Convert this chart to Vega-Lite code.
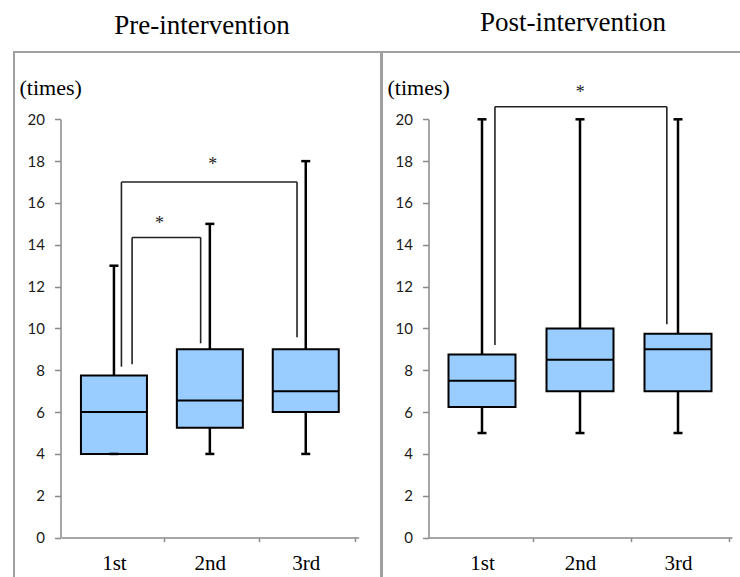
{
  "$schema": "https://vega.github.io/schema/vega-lite/v6.json",
  "padding": {"left": 13, "top": 8, "right": 0, "bottom": 0},
  "background": "white",
  "spacing": -3,
  "config": {
    "view": {"stroke": "#a0a0a0", "strokeWidth": 2},
    "axis": {"grid": false, "domainColor": "#8a8a8a", "tickColor": "#8a8a8a", "domainWidth": 1.5, "tickWidth": 1.5},
    "axisY": {"titleAngle": 0, "titleAlign": "left", "titleBaseline": "alphabetic", "titleX": -41.5, "titleY": 42, "titleFont": "Liberation Serif", "titleFontSize": 22, "titleFontWeight": "normal", "titleColor": "#000000", "offset": -46.5, "labelFont": "Lato", "labelFontSize": 15, "labelColor": "#1a1a1a", "labelPadding": 10, "tickSize": 6},
    "axisX": {"offset": -44.4, "tickSize": 4, "labelFont": "Liberation Serif", "labelFontSize": 21, "labelBaseline": "alphabetic", "labelAlign": "center", "labelPadding": 28, "labelAngle": 0, "labelColor": "#000000", "labelFlush": false, "labelOverlap": false}
  },
  "datasets": {
    "pre": [
      {"session": 1, "min": 4, "q1": 4, "median": 6, "q3": 7.75, "max": 13},
      {"session": 2, "min": 4, "q1": 5.25, "median": 6.55, "q3": 9, "max": 15},
      {"session": 3, "min": 4, "q1": 6, "median": 7, "q3": 9, "max": 18}
    ],
    "post": [
      {"session": 1, "min": 5, "q1": 6.25, "median": 7.5, "q3": 8.75, "max": 20},
      {"session": 2, "min": 5, "q1": 7, "median": 8.5, "q3": 10, "max": 20},
      {"session": 3, "min": 5, "q1": 7, "median": 9, "q3": 9.75, "max": 20}
    ],
    "preBrackets": [
      {"left": 1.189, "right": 1.904, "leftFrom": 8.29, "rightFrom": 9.29, "top": 14.35, "starX": 1.475, "starY": 15.19, "mark": "*"},
      {"left": 1.078, "right": 2.909, "leftFrom": 8.17, "rightFrom": 9.58, "top": 17.0, "starX": 2.029, "starY": 18.01, "mark": "*"}
    ],
    "postBrackets": [
      {"left": 1.132, "right": 2.886, "leftFrom": 9.21, "rightFrom": 10.2, "top": 20.6, "starX": 2.003, "starY": 21.44, "mark": "*"}
    ]
  },
  "hconcat": [
    {
      "title": {"text": "Pre-intervention", "font": "Liberation Serif", "fontSize": 27, "fontWeight": "normal", "color": "#000000", "anchor": "middle", "frame": "group", "baseline": "alphabetic", "offset": -8.8, "dx": 4.5},
      "width": 367,
      "height": 530,
      "layer": [
        {"data": {"name": "pre"},
         "mark": {"type": "rule", "color": "#000000", "strokeWidth": 2.5},
         "encoding": {
           "x": {"field": "session", "type": "quantitative", "title": null, "scale": {"domain": [0.5, 3.5], "range": [47, 344.7], "nice": false, "zero": false},
             "axis": {"values": [1, 2, 3], "tickOffset": 49.6, "labelOffset": -49.6, "labelExpr": "datum.value == 1 ? '1st' : datum.value == 2 ? '2nd' : '3rd'"}},
           "y": {"field": "min", "type": "quantitative", "title": "(times)", "scale": {"domain": [0, 20], "range": [485.6, 67.3], "nice": false, "zero": false},
             "axis": {"values": [0, 2, 4, 6, 8, 10, 12, 14, 16, 18, 20]}},
           "y2": {"field": "q1"}}},
        {"data": {"name": "pre"},
         "mark": {"type": "rule", "color": "#000000", "strokeWidth": 2.5},
         "encoding": {
           "x": {"field": "session", "type": "quantitative", "title": null},
           "y": {"field": "q3", "type": "quantitative", "title": "(times)"},
           "y2": {"field": "max"}}},
        {"data": {"name": "pre"},
         "mark": {"type": "bar", "fill": "#99CCFF", "stroke": "#000000", "strokeWidth": 2, "width": 66},
         "encoding": {
           "x": {"field": "session", "type": "quantitative", "title": null},
           "y": {"field": "q1", "type": "quantitative", "title": "(times)"},
           "y2": {"field": "q3"}}},
        {"data": {"name": "pre"},
         "mark": {"type": "tick", "orient": "horizontal", "color": "#000000", "size": 66, "thickness": 2, "opacity": 1},
         "encoding": {
           "x": {"field": "session", "type": "quantitative", "title": null},
           "y": {"field": "median", "type": "quantitative", "title": "(times)"}}},
        {"data": {"name": "pre"},
         "mark": {"type": "tick", "orient": "horizontal", "color": "#000000", "size": 9, "thickness": 2.5, "opacity": 1},
         "encoding": {
           "x": {"field": "session", "type": "quantitative", "title": null},
           "y": {"field": "max", "type": "quantitative", "title": "(times)"}}},
        {"data": {"name": "pre"},
         "mark": {"type": "tick", "orient": "horizontal", "color": "#000000", "size": 9, "thickness": 2.5, "opacity": 1},
         "encoding": {
           "x": {"field": "session", "type": "quantitative", "title": null},
           "y": {"field": "min", "type": "quantitative", "title": "(times)"}}},
        {"data": {"name": "preBrackets"},
         "mark": {"type": "rule", "color": "#222222", "strokeWidth": 1.6},
         "encoding": {
           "x": {"field": "left", "type": "quantitative", "title": null},
           "y": {"field": "leftFrom", "type": "quantitative", "title": "(times)"},
           "y2": {"field": "top"}}},
        {"data": {"name": "preBrackets"},
         "mark": {"type": "rule", "color": "#222222", "strokeWidth": 1.6},
         "encoding": {
           "x": {"field": "right", "type": "quantitative", "title": null},
           "y": {"field": "rightFrom", "type": "quantitative", "title": "(times)"},
           "y2": {"field": "top"}}},
        {"data": {"name": "preBrackets"},
         "mark": {"type": "rule", "color": "#222222", "strokeWidth": 1.6},
         "encoding": {
           "x": {"field": "left", "type": "quantitative", "title": null},
           "x2": {"field": "right"},
           "y": {"field": "top", "type": "quantitative", "title": "(times)"}}},
        {"data": {"name": "preBrackets"},
         "mark": {"type": "text", "font": "Liberation Serif", "fontSize": 18, "color": "#222222", "baseline": "alphabetic", "dy": 9},
         "encoding": {
           "x": {"field": "starX", "type": "quantitative", "title": null},
           "y": {"field": "starY", "type": "quantitative", "title": "(times)"},
           "text": {"field": "mark"}}}
      ]
    },
    {
      "title": {"text": "Post-intervention", "font": "Liberation Serif", "fontSize": 27, "fontWeight": "normal", "color": "#000000", "anchor": "middle", "frame": "group", "baseline": "alphabetic", "offset": -6.2, "dx": 8},
      "width": 366,
      "height": 530,
      "layer": [
        {"data": {"name": "post"},
         "mark": {"type": "rule", "color": "#000000", "strokeWidth": 2.5},
         "encoding": {
           "x": {"field": "session", "type": "quantitative", "title": null, "scale": {"domain": [0.5, 3.5], "range": [46, 350], "nice": false, "zero": false},
             "axis": {"values": [1, 2, 3], "tickOffset": 50.7, "labelOffset": -50.7, "labelExpr": "datum.value == 1 ? '1st' : datum.value == 2 ? '2nd' : '3rd'"}},
           "y": {"field": "min", "type": "quantitative", "title": "(times)", "scale": {"domain": [0, 20], "range": [485.6, 67.3], "nice": false, "zero": false},
             "axis": {"values": [0, 2, 4, 6, 8, 10, 12, 14, 16, 18, 20]}},
           "y2": {"field": "q1"}}},
        {"data": {"name": "post"},
         "mark": {"type": "rule", "color": "#000000", "strokeWidth": 2.5},
         "encoding": {
           "x": {"field": "session", "type": "quantitative", "title": null},
           "y": {"field": "q3", "type": "quantitative", "title": "(times)"},
           "y2": {"field": "max"}}},
        {"data": {"name": "post"},
         "mark": {"type": "bar", "fill": "#99CCFF", "stroke": "#000000", "strokeWidth": 2, "width": 67},
         "encoding": {
           "x": {"field": "session", "type": "quantitative", "title": null},
           "y": {"field": "q1", "type": "quantitative", "title": "(times)"},
           "y2": {"field": "q3"}}},
        {"data": {"name": "post"},
         "mark": {"type": "tick", "orient": "horizontal", "color": "#000000", "size": 67, "thickness": 2, "opacity": 1},
         "encoding": {
           "x": {"field": "session", "type": "quantitative", "title": null},
           "y": {"field": "median", "type": "quantitative", "title": "(times)"}}},
        {"data": {"name": "post"},
         "mark": {"type": "tick", "orient": "horizontal", "color": "#000000", "size": 9, "thickness": 2.5, "opacity": 1},
         "encoding": {
           "x": {"field": "session", "type": "quantitative", "title": null},
           "y": {"field": "max", "type": "quantitative", "title": "(times)"}}},
        {"data": {"name": "post"},
         "mark": {"type": "tick", "orient": "horizontal", "color": "#000000", "size": 9, "thickness": 2.5, "opacity": 1},
         "encoding": {
           "x": {"field": "session", "type": "quantitative", "title": null},
           "y": {"field": "min", "type": "quantitative", "title": "(times)"}}},
        {"data": {"name": "postBrackets"},
         "mark": {"type": "rule", "color": "#222222", "strokeWidth": 1.6},
         "encoding": {
           "x": {"field": "left", "type": "quantitative", "title": null},
           "y": {"field": "leftFrom", "type": "quantitative", "title": "(times)"},
           "y2": {"field": "top"}}},
        {"data": {"name": "postBrackets"},
         "mark": {"type": "rule", "color": "#222222", "strokeWidth": 1.6},
         "encoding": {
           "x": {"field": "right", "type": "quantitative", "title": null},
           "y": {"field": "rightFrom", "type": "quantitative", "title": "(times)"},
           "y2": {"field": "top"}}},
        {"data": {"name": "postBrackets"},
         "mark": {"type": "rule", "color": "#222222", "strokeWidth": 1.6},
         "encoding": {
           "x": {"field": "left", "type": "quantitative", "title": null},
           "x2": {"field": "right"},
           "y": {"field": "top", "type": "quantitative", "title": "(times)"}}},
        {"data": {"name": "postBrackets"},
         "mark": {"type": "text", "font": "Liberation Serif", "fontSize": 18, "color": "#222222", "baseline": "alphabetic", "dy": 9},
         "encoding": {
           "x": {"field": "starX", "type": "quantitative", "title": null},
           "y": {"field": "starY", "type": "quantitative", "title": "(times)"},
           "text": {"field": "mark"}}}
      ]
    }
  ]
}
